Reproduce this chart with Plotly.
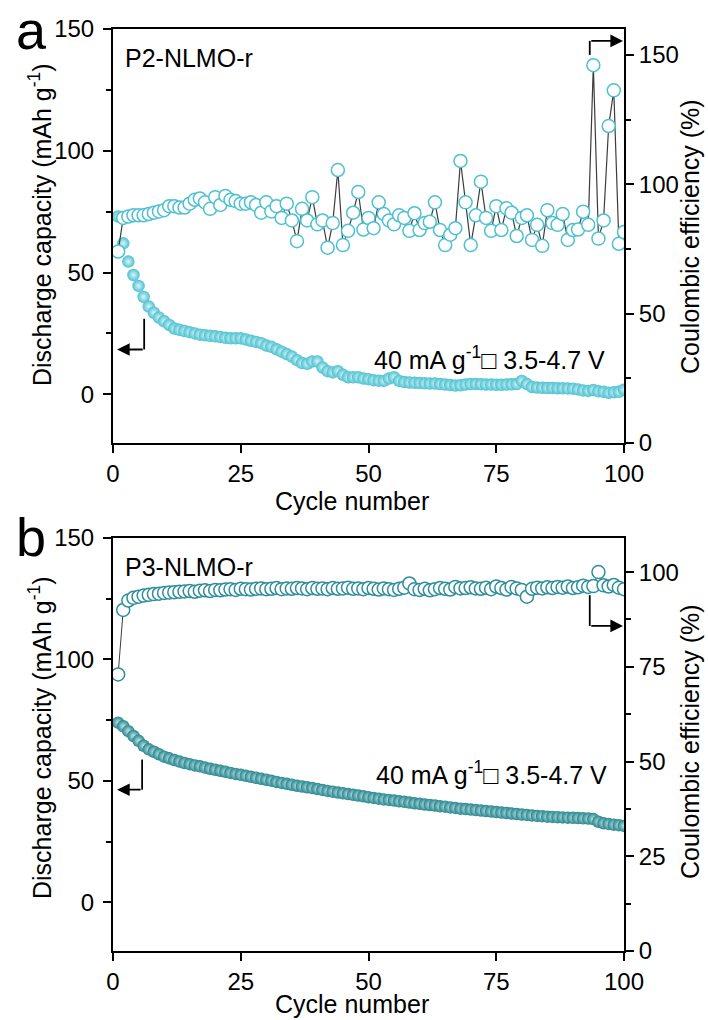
import plotly.graph_objects as go

cycles = list(range(1, 101))

# Panel a: P2-NLMO-r
dis_a = [73, 62, 54.5, 49, 44.5, 40, 36, 33.5, 31.5, 30,
         28.5, 27, 26.5, 26, 25.5, 25, 24.5, 24.2, 24, 23.8,
         23.5, 23.2, 23, 23, 23, 22.5, 22, 21.5, 21, 20,
         19.5, 18.5, 17.5, 16.5, 15.5, 14, 12.8, 12.5, 13.5, 13.5,
         11, 9.5, 9, 9.5, 8, 7, 7, 7, 6.5, 6.2,
         5.8, 5.6, 5.5, 6.5, 7, 5.5, 5, 4.8, 4.7, 4.6,
         4.5, 4.4, 4.4, 4.2, 4, 3.8, 3.6, 3.7, 4, 4.2,
         4.2, 4.1, 4.0, 4.0, 3.9, 3.9, 4.0, 4.1, 4.2, 5.5,
         4.2, 3.0, 2.8, 2.7, 2.6, 2.6, 2.5, 2.5, 2.4, 2.3,
         2.0, 1.6, 1.4, 1.8, 1.2, 1.0, 0.6, 0.8, 1.0, 1.9]
ce_a = [74, 87, 87.5, 88, 88, 88, 88.5, 89, 89.5, 90,
        91.5, 91.5, 91, 91, 92.5, 94, 94.5, 93, 90.5, 95,
        92, 95.5, 94, 93.5, 92.5, 92.5, 93, 92, 89, 93,
        89.5, 91.5, 87, 92.5, 86, 78, 90.5, 86, 95, 84.5,
        86, 75.5, 85, 105.5, 76.5, 82, 89, 97, 82.5, 87,
        83, 93, 88.5, 86, 84.5, 88, 87, 82, 88.8, 82.3,
        85, 85.5, 93, 82.3, 76.5, 80.5, 83, 109, 93, 76.5,
        88, 101, 87, 82, 91.5, 82.3, 90.7, 89, 80, 87,
        88, 78.5, 84.3, 76.2, 90, 85, 84.3, 88.5, 78.5, 82.3,
        82.5, 89.4, 84.3, 146, 79, 86, 122.5, 136.3, 77, 81.5]

# Panel b: P3-NLMO-r
dis_b = [74, 72.5, 70.5, 68.5, 66.5, 64.5, 63, 62, 61, 60,
         59.3, 58.6, 58, 57.4, 56.9, 56.4, 56, 55.5, 55, 54.6,
         54.2, 53.8, 53.3, 52.9, 52.5, 52.1, 51.7, 51.3, 50.9, 50.5,
         50.1, 49.6, 49.2, 48.8, 48.4, 48, 47.7, 47.4, 47.1, 46.7,
         46.3, 45.9, 45.6, 45.2, 44.9, 44.6, 44.3, 44, 43.7, 43.3,
         43, 42.7, 42.4, 42.2, 41.9, 41.6, 41.4, 41.1, 40.8, 40.6,
         40.3, 40.1, 39.9, 39.6, 39.4, 39.1, 38.9, 38.6, 38.4, 38.2,
         38, 37.8, 37.6, 37.4, 37.2, 37, 36.8, 36.6, 36.4, 36.2,
         36, 35.8, 35.6, 35.5, 35.3, 35.2, 35.1, 35, 34.9, 34.8,
         34.7, 34.6, 34.5, 34.3, 33.2, 32.6, 32.3, 32, 31.8, 31.5]
ce_b = [73, 90, 92.5, 93.2, 93.5, 93.8, 94, 94.2, 94.3, 94.5,
        94.6, 94.7, 94.8, 94.9, 95, 94.8, 95.1, 95.2, 95, 95.3,
        95.2, 95.4, 95.5, 95.3, 95.6, 95.5, 95.4, 95.6, 95.7, 95.5,
        95.6, 95.8, 95.5, 95.7, 95.6, 95.8, 95.7, 95.5, 95.8, 95.6,
        95.7, 95.5, 95.8, 95.6, 95.7, 95.9, 95.6, 95.7, 95.5, 95.8,
        95.6, 95.4, 95.7, 95.5, 95.3, 95.6, 95.9, 97.0, 95.5, 95.3,
        95.6, 95.2, 95.5, 95.8, 95.6, 95.4, 96.1, 95.7, 95.8, 96.0,
        95.7, 95.6, 95.9, 95.5, 96.2, 95.8, 95.4, 96.1, 95.7, 95.3,
        93.5, 95.6, 95.9, 95.7, 96.0, 95.8, 96.1, 95.9, 96.2, 95.8,
        96.0, 96.4, 96.1, 96.3, 100, 96.5, 96.2, 96.6, 95.9, 95.5]

x_ticks = [0, 25, 50, 75, 100]

COL_A = "#4CC1D1"
COL_B = "#26858E"
COL_B_CE = "#2E8E9C"
FONT = "Liberation Sans, Arial, sans-serif"

W, H = 708, 1020
def px(xp):
    return xp / W
def py(yp):
    return 1 - yp / H

fig = go.Figure()

# panel a
fig.add_trace(go.Scatter(x=cycles, y=dis_a, mode="markers", xaxis="x", yaxis="y",
                         marker=dict(size=12.5, color=COL_A, line=dict(width=0),
                                     gradient=dict(type="radial", color="#d9f5f8")),
                         showlegend=False))
fig.add_trace(go.Scatter(x=cycles, y=ce_a, mode="lines+markers", xaxis="x", yaxis="y2",
                         line=dict(color="#3c3c3c", width=1.2),
                         marker=dict(size=13, color="white", symbol="circle",
                                     line=dict(color=COL_A, width=1.5)),
                         showlegend=False))
# panel b
fig.add_trace(go.Scatter(x=cycles, y=dis_b, mode="markers", xaxis="x2", yaxis="y3",
                         marker=dict(size=12.5, color=COL_B, line=dict(width=0),
                                     gradient=dict(type="radial", color="#c4e6e9")),
                         showlegend=False))
fig.add_trace(go.Scatter(x=cycles, y=ce_b, mode="lines+markers", xaxis="x2", yaxis="y4",
                         line=dict(color="#3c3c3c", width=1.0),
                         marker=dict(size=13, color="white", symbol="circle",
                                     line=dict(color=COL_B_CE, width=1.5)),
                         showlegend=False))

tickfont = dict(family=FONT, size=24, color="black")
common = dict(showline=True, linewidth=2, linecolor="black", ticks="outside",
              ticklen=8, tickwidth=2, tickcolor="black", showgrid=False,
              zeroline=False, tickfont=tickfont, automargin=False)

xa_dom = [px(113), px(624)]
ya_dom = [py(443), py(29)]
yb_dom = [py(951), py(538)]

fig.update_layout(
    width=W, height=H, margin=dict(l=0, r=0, t=0, b=0),
    paper_bgcolor="white", plot_bgcolor="white",
    xaxis=dict(domain=xa_dom, anchor="y", range=[0, 100], tickvals=x_ticks,
               mirror=True, ticklabelstandoff=0, **common),
    yaxis=dict(domain=ya_dom, anchor="x", range=[-20, 150], dtick=50, tick0=0,
               ticklabelstandoff=4,
               minor=dict(ticks="outside", ticklen=5, tickwidth=2, dtick=25, tick0=0,
                          tickcolor="black"), **common),
    yaxis2=dict(overlaying="y", side="right", anchor="x", range=[0, 160], dtick=50, tick0=0,
                minor=dict(ticks="outside", ticklen=5, tickwidth=2, dtick=25, tick0=0,
                           tickcolor="black"), **common),
    xaxis2=dict(domain=xa_dom, anchor="y3", range=[0, 100], tickvals=x_ticks,
                mirror=True, ticklabelstandoff=0, **common),
    yaxis3=dict(domain=yb_dom, anchor="x2", range=[-20, 150], dtick=50, tick0=0,
                ticklabelstandoff=4,
                minor=dict(ticks="outside", ticklen=5, tickwidth=2, dtick=25, tick0=0,
                           tickcolor="black"), **common),
    yaxis4=dict(overlaying="y3", side="right", anchor="x2", range=[0, 109], dtick=25, tick0=0,
                minor=dict(ticks="outside", ticklen=5, tickwidth=2, dtick=12.5, tick0=0,
                           tickcolor="black"), **common),
)

ann = []
def text(xp, yp, t, size=25, angle=0, xanchor="center"):
    ann.append(dict(x=px(xp), y=py(yp), xref="paper", yref="paper", text=t,
                    showarrow=False, textangle=angle, xanchor=xanchor, yanchor="middle",
                    font=dict(family=FONT, size=size, color="black")))

text(31, 30, "a", size=54)
text(31, 537, "b", size=54)
text(40, 225, "Discharge capacity (mAh g<sup>-1</sup>)", size=25, angle=-90)
text(40, 738, "Discharge capacity (mAh g<sup>-1</sup>)", size=25, angle=-90)
text(690, 237, "Coulombic efficiency (%)", angle=-90)
text(690, 742, "Coulombic efficiency (%)", angle=-90)
text(352, 501, "Cycle number", size=25)
text(352, 1004, "Cycle number", size=25)
text(123, 58, "P2-NLMO-r", xanchor="left")
text(123, 567, "P3-NLMO-r", xanchor="left")
text(372, 358, "40 mA g<sup>-1</sup>\u25a1 3.5-4.7 V", xanchor="left")
text(374, 773, "40 mA g<sup>-1</sup>\u25a1 3.5-4.7 V", xanchor="left")

def arrow(xr, yr, x_tip, x_tail, y_val):
    ann.append(dict(x=x_tip, y=y_val, ax=x_tail, ay=y_val, xref=xr, yref=yr,
                    axref=xr, ayref=yr, text="", showarrow=True, arrowhead=2,
                    arrowsize=1.4, arrowwidth=1.8, arrowcolor="black"))

shapes = []
def vline(xr, yr, xv, y0, y1):
    shapes.append(dict(type="line", xref=xr, yref=yr, x0=xv, x1=xv, y0=y0, y1=y1,
                       line=dict(color="black", width=1.8)))

vline("x", "y", 6.1, 31, 18.4); arrow("x", "y", 0.8, 6.1, 18.4)
vline("x", "y2", 93.3, 150, 155.4); arrow("x", "y2", 99.8, 93.3, 155.4)
vline("x2", "y3", 5.7, 58.8, 46.4); arrow("x2", "y3", 0.8, 5.7, 46.4)
vline("x2", "y4", 93.3, 93.9, 85.8); arrow("x2", "y4", 99.8, 93.3, 85.8)

fig.update_layout(annotations=ann, shapes=shapes)
fig.write_html("out.html")
